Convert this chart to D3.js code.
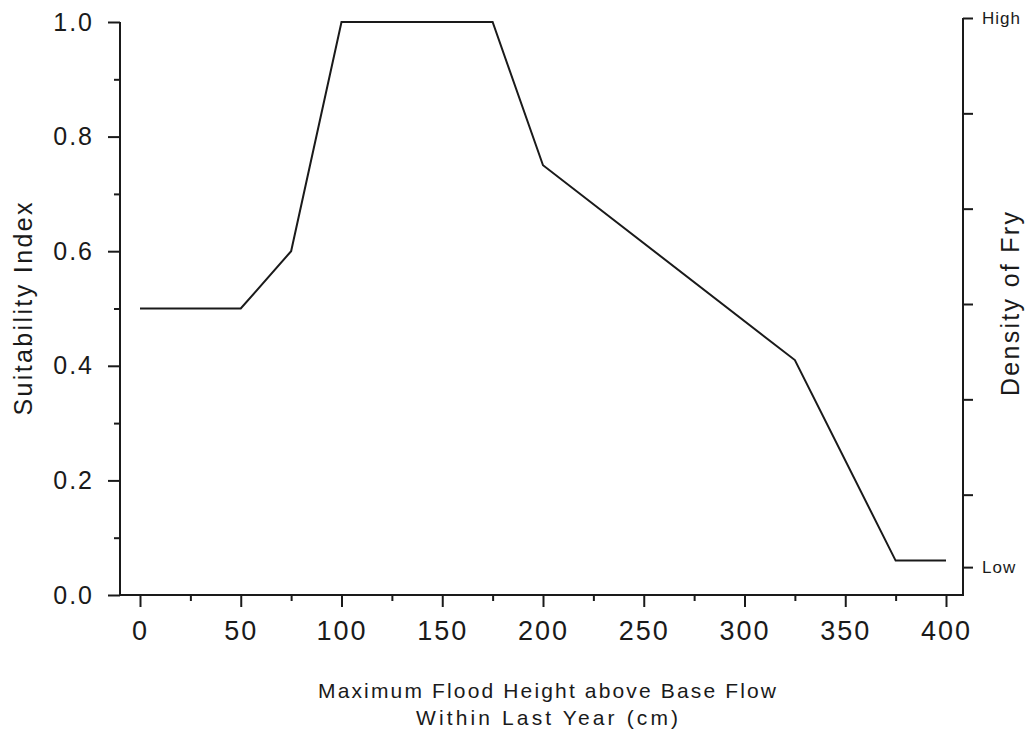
<!DOCTYPE html>
<html>
<head>
<meta charset="utf-8">
<script src="https://cdn.jsdelivr.net/npm/d3@7"></script>
<style>
  html, body { margin: 0; padding: 0; background: #fff; }
  svg { display: block; }
  text { font-family: "Liberation Sans", Arial, Helvetica, sans-serif; fill: #1a1a1a; }
</style>
</head>
<body>
<svg id="chart" width="1029" height="736"></svg>
<script>
// Suitability index curve: flood height (cm) vs. suitability
const floodHeight = [0, 50, 75, 100, 175, 200, 325, 375, 400];
const suitability = [0.5, 0.5, 0.6, 1.0, 1.0, 0.75, 0.41, 0.06, 0.06];

// Axis ticks
const xMajorTicks = [0, 50, 100, 150, 200, 250, 300, 350, 400];
const xMinorTicks = [25, 75, 125, 175, 225, 275, 325, 375];
const yMajorTicks = [0, 0.2, 0.4, 0.6, 0.8, 1.0];
const yMinorTicks = [0.1, 0.3, 0.5, 0.7, 0.9];

// Right-hand density axis: relative scale with labelled extremes
const densityTicks = [1, 5 / 6, 4 / 6, 3 / 6, 2 / 6, 1 / 6, 0.04];
const densityLabels = ["High", "", "", "", "", "", "Low"];

const svg = d3.select("#chart");
const ink = "#1a1a1a";
const labelFont = "Liberation Sans, Arial, sans-serif";

const frameLeft = 120, frameRight = 963, frameTop = 22, frameBottom = 595;

const x = d3.scaleLinear().domain([0, 400]).range([140, 946]);
const y = d3.scaleLinear().domain([0, 1]).range([frameBottom, frameTop]);
const yRight = d3.scaleLinear().domain([0, 1]).range([590, 18]);

// Frame lines: left, bottom, right
svg.append("path")
  .attr("d", `M${frameLeft},${frameTop}V${frameBottom}H${frameRight}V${yRight(1)}`)
  .attr("fill", "none").attr("stroke", ink).attr("stroke-width", 2);

// Left axis (Suitability Index)
const yAxis = d3.axisLeft(y).tickValues(yMajorTicks).tickSize(12)
  .tickPadding(14).tickFormat(d3.format(".1f"));
const gy = svg.append("g").attr("transform", `translate(${frameLeft},0)`).call(yAxis);
gy.select(".domain").remove();
gy.selectAll(".tick line").attr("stroke", ink).attr("stroke-width", 2);
gy.selectAll(".tick text").attr("font-size", 25).attr("letter-spacing", 2)
  .attr("fill", ink).attr("font-family", labelFont);

const gyMinor = svg.append("g").attr("transform", `translate(${frameLeft},0)`)
  .call(d3.axisLeft(y).tickValues(yMinorTicks).tickSize(6).tickFormat(""));
gyMinor.select(".domain").remove();
gyMinor.selectAll(".tick line").attr("stroke", ink).attr("stroke-width", 2);

// Bottom axis (flood height)
const xAxis = d3.axisBottom(x).tickValues(xMajorTicks).tickSize(12).tickPadding(14);
const gx = svg.append("g").attr("transform", `translate(0,${frameBottom})`).call(xAxis);
gx.select(".domain").remove();
gx.selectAll(".tick line").attr("stroke", ink).attr("stroke-width", 2);
gx.selectAll(".tick text").attr("font-size", 27).attr("letter-spacing", 2)
  .attr("fill", ink).attr("font-family", labelFont);

const gxMinor = svg.append("g").attr("transform", `translate(0,${frameBottom})`)
  .call(d3.axisBottom(x).tickValues(xMinorTicks).tickSize(6).tickFormat(""));
gxMinor.select(".domain").remove();
gxMinor.selectAll(".tick line").attr("stroke", ink).attr("stroke-width", 2);

// Right axis (density of fry)
const rAxis = d3.axisRight(yRight).tickValues(densityTicks).tickSize(10).tickPadding(9)
  .tickFormat((d, i) => densityLabels[i]);
const gr = svg.append("g").attr("transform", `translate(${frameRight},0)`).call(rAxis);
gr.select(".domain").remove();
gr.selectAll(".tick line").attr("stroke", ink).attr("stroke-width", 2);
gr.selectAll(".tick text").attr("font-size", 17).attr("letter-spacing", 1)
  .attr("fill", ink).attr("font-family", labelFont);

// Suitability curve
const pts = floodHeight.map((h, i) => [h, suitability[i]]);
svg.append("path")
  .datum(pts)
  .attr("d", d3.line().x(d => x(d[0])).y(d => y(d[1])))
  .attr("fill", "none").attr("stroke", ink).attr("stroke-width", 2)
  .attr("stroke-linejoin", "miter");

// Axis titles
svg.append("text")
  .attr("transform", "translate(32,309) rotate(-90)")
  .attr("text-anchor", "middle").attr("font-size", 25)
  .attr("textLength", 213).attr("lengthAdjust", "spacing")
  .text("Suitability Index");

svg.append("text")
  .attr("transform", "translate(1019,304) rotate(-90)")
  .attr("text-anchor", "middle").attr("font-size", 25)
  .attr("textLength", 184).attr("lengthAdjust", "spacing")
  .text("Density of Fry");

svg.append("text")
  .attr("x", 547).attr("y", 698)
  .attr("text-anchor", "middle").attr("font-size", 21)
  .attr("textLength", 458).attr("lengthAdjust", "spacing")
  .text("Maximum Flood Height above Base Flow");

svg.append("text")
  .attr("x", 547).attr("y", 725)
  .attr("text-anchor", "middle").attr("font-size", 21)
  .attr("textLength", 262).attr("lengthAdjust", "spacing")
  .text("Within Last Year (cm)");
</script>
</body>
</html>
